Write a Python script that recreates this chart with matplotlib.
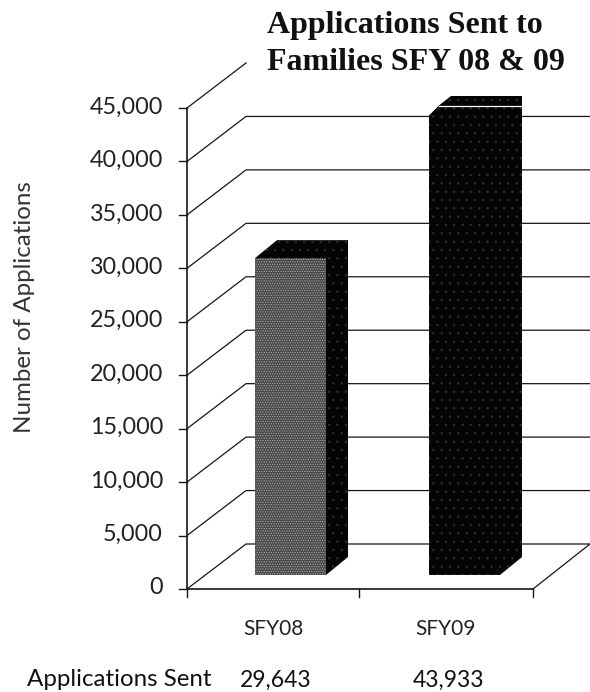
import matplotlib
matplotlib.use('Agg')
import matplotlib.pyplot as plt
from matplotlib.patches import Polygon

# Values
categories = ['SFY08', 'SFY09']
applications = [29643, 43933]
y_ticks = [0, 5000, 10000, 15000, 20000, 25000, 30000, 35000, 40000, 45000]
bar_colors = ['#484848', '#050505']
hatch_colors = ['#b4b4b4', '#303030']
hatches = ['.......', '..']

plt.rcParams['hatch.linewidth'] = 0.5

fig = plt.figure(figsize=(5.9, 6.92), dpi=100)
ax = fig.add_axes([0, 0, 1, 1])
ax.set_xlim(0, 590)
ax.set_ylim(692, 0)
ax.axis('off')

# pixel layout of the fake 3d chart
x0, y0 = 187, 589       # front corner of the left wall
dx, dy = 59, -45        # depth offset
y_per_unit = (589 - 108) / 45000
x_right = 590
line_col = '#161616'


def val_y(v):
    return y0 - v * y_per_unit


# gridlines with the slanted bit on the side wall, top one has only the slant
for v in y_ticks:
    y = val_y(v)
    if v == 45000:
        ax.plot([x0, x0 + dx], [y, y + dy], color=line_col, lw=0.9)
    else:
        ax.plot([x0, x0 + dx, x_right], [y, y + dy, y + dy], color=line_col, lw=0.9)

# axis lines and floor edge
ax.plot([x0, x0], [val_y(0), val_y(45000)], color=line_col, lw=1.2)
ax.plot([x0, 533], [y0, y0], color=line_col, lw=1.2)
ax.plot([533, x_right], [y0, y0 + dy], color=line_col, lw=0.9)

# tick marks
for v in y_ticks:
    ax.plot([x0 - 8, x0], [val_y(v), val_y(v)], color=line_col, lw=1.0)
for x in [x0, 359, 533]:
    ax.plot([x, x], [y0, y0 + 8], color=line_col, lw=1.0)

# bars
bar_lefts = [255, 429]
bar_width = 71
bar_dx, bar_dy = 22, -18
bar_base = 575
ceiling = 96            # the cap of the tall bar gets cut off here
for i in range(len(categories)):
    left = bar_lefts[i]
    right = left + bar_width
    top = bar_base - applications[i] * y_per_unit
    cut = top + bar_dy < ceiling
    cap_top = ceiling if cut else top + bar_dy
    corner = (left + 10, top) if cut else (left, top)

    # side and cap first, all dark
    side = [(right, bar_base), (right + bar_dx, bar_base + bar_dy),
            (right + bar_dx, cap_top), (left + bar_dx, cap_top), corner]
    ax.add_patch(Polygon(side, facecolor='#050505', edgecolor='#303030', hatch='..',
                         linewidth=0, zorder=3))
    # front face, corner notched if the top got cut
    if cut:
        front = [(left, bar_base), (right, bar_base), (right, top), (left + 10, top), (left, top + 10)]
    else:
        front = [(left, bar_base), (right, bar_base), (right, top), (left, top)]
    ax.add_patch(Polygon(front, facecolor=bar_colors[i], edgecolor=hatch_colors[i],
                         hatch=hatches[i], linewidth=0, zorder=4))
    if cut:
        ax.plot([left + 10, right + bar_dx], [top + 1, top + 1], color='white', lw=0.9, zorder=5)

# tick labels
sans = 'Lato'
for v in y_ticks:
    ax.text(163, val_y(v) - 1, f'{v:,}', ha='right', va='center', fontsize=16.8,
            family=sans, color='#222222')
cat_x = [273, 445]
for i in range(len(categories)):
    ax.text(cat_x[i], 629, categories[i], ha='center', va='center', fontsize=15,
            family=sans, color='#222222')

ax.text(25, 307, 'Number of Applications', rotation=90, ha='center', va='center',
        fontsize=17.4, family=sans, color='#333333')

# table row below the chart
ax.text(119, 680, 'Applications Sent', ha='center', va='center', fontsize=17.4,
        family=sans, color='#111111')
ax.text(276, 680, f'{applications[0]:,}', ha='center', va='center', fontsize=16.5,
        family=sans, color='#111111')
ax.text(448, 680, f'{applications[1]:,}', ha='center', va='center', fontsize=16.5,
        family=sans, color='#111111')

ax.text(267, 25, 'Applications Sent to', ha='left', va='center', fontsize=23,
        fontweight='bold', family='Liberation Serif', color='#111111')
ax.text(267, 62, 'Families SFY 08 & 09', ha='left', va='center', fontsize=23,
        fontweight='bold', family='Liberation Serif', color='#111111')

fig.savefig('out.png', dpi=100)
